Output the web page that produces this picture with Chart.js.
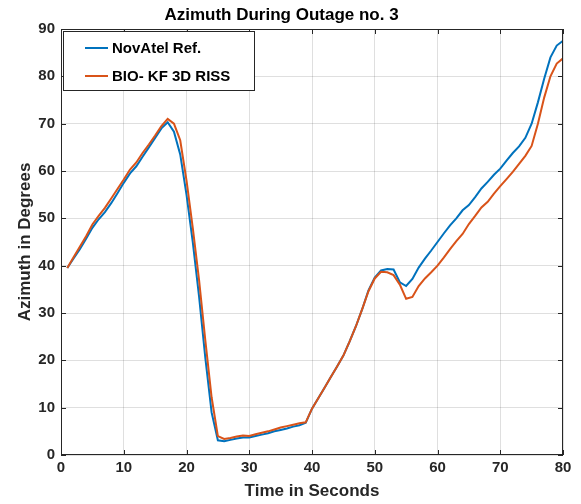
<!DOCTYPE html>
<html>
<head>
<meta charset="utf-8">
<script src="https://cdn.jsdelivr.net/npm/chart.js@4/dist/chart.umd.min.js"></script>
<style>
  html, body { margin: 0; padding: 0; background: #fff; }
  #wrap { width: 581px; height: 504px; }
</style>
</head>
<body>
<div id="wrap"><canvas id="c" width="581" height="504"></canvas></div>
<script>
const chartTitle = "Azimuth During Outage no. 3";
const xTitle = "Time in Seconds";
const yTitle = "Azimuth in Degrees";
const seriesNames = ["NovAtel Ref.", "BIO- KF 3D RISS"];

const timeSec = [1,2,3,4,5,6,7,8,9,10,11,12,13,14,15,16,17,18,19,20,
  21,22,23,24,25,26,27,28,29,30,31,32,33,34,35,36,37,38,39,40,
  41,42,43,44,45,46,47,48,49,50,51,52,53,54,55,56,57,58,59,60,
  61,62,63,64,65,66,67,68,69,70,71,72,73,74,75,76,77,78,79,80];

const novatelRef = [39.5,41.5,43.5,45.7,48.0,49.8,51.3,53.2,55.3,57.5,
  59.5,61.0,63.0,65.0,67.0,69.0,70.3,68.3,63.5,55.0,
  45.0,33.5,20.5,9.0,3.1,2.9,3.2,3.5,3.7,3.7,
  4.0,4.3,4.6,5.0,5.3,5.6,6.0,6.3,6.8,9.8,
  12.0,14.2,16.5,18.7,21.0,24.0,27.2,30.8,34.8,37.5,
  39.0,39.3,39.2,36.5,35.7,37.2,39.6,41.5,43.2,45.0,
  46.8,48.5,50.0,51.7,52.8,54.5,56.3,57.7,59.2,60.5,
  62.2,63.8,65.2,67.0,70.0,74.5,79.5,84.0,86.5,87.5];

const bioKf3dRiss = [39.5,41.8,44.0,46.2,48.7,50.5,52.2,54.2,56.2,58.2,
  60.3,61.8,63.8,65.6,67.5,69.5,71.0,70.0,66.5,58.0,
  48.0,37.0,24.2,12.2,4.0,3.4,3.6,3.9,4.1,4.0,
  4.4,4.7,5.0,5.4,5.8,6.1,6.4,6.7,6.9,9.8,
  12.0,14.2,16.5,18.7,21.0,24.0,27.2,30.8,34.6,37.3,
  38.7,38.6,38.0,36.0,33.0,33.4,35.7,37.3,38.6,40.0,
  41.7,43.5,45.2,46.7,48.8,50.5,52.3,53.5,55.2,56.8,
  58.3,59.8,61.5,63.2,65.3,70.0,75.5,80.0,82.7,83.8];

const xTicks = [0,10,20,30,40,50,60,70,80];
const yTicks = [0,10,20,30,40,50,60,70,80,90];

const BLUE = "#0072BD";
const ORANGE = "#D95319";
const AXC = "#262626";
const FONT = "'Liberation Sans', Arial, Helvetica, sans-serif";

function pts(xs, ys) { return xs.map((x, i) => ({ x: x, y: ys[i] })); }

const boxPlugin = {
  id: 'matlabBox',
  afterDraw(chart) {
    const { ctx, chartArea: a, scales } = chart;
    ctx.save();
    // inward ticks on all four sides
    ctx.strokeStyle = AXC;
    ctx.lineWidth = 1;
    const tl = 5;
    ctx.beginPath();
    xTicks.forEach(v => {
      const px = Math.round(scales.x.getPixelForValue(v)) + 0.5;
      ctx.moveTo(px, a.bottom); ctx.lineTo(px, a.bottom - tl);
      ctx.moveTo(px, a.top); ctx.lineTo(px, a.top + tl);
    });
    yTicks.forEach(v => {
      const py = Math.round(scales.y.getPixelForValue(v)) + 0.5;
      ctx.moveTo(a.left, py); ctx.lineTo(a.left + tl, py);
      ctx.moveTo(a.right, py); ctx.lineTo(a.right - tl, py);
    });
    ctx.stroke();
    // axes box
    ctx.strokeStyle = AXC;
    ctx.lineWidth = 1;
    ctx.strokeRect(Math.round(a.left) + 0.5, Math.round(a.top) + 0.5,
                   Math.round(a.right - a.left) - 1, Math.round(a.bottom - a.top) - 1);
    // legend box
    const lx = 63.5, ly = 31.5, lw = 191, lh = 59;
    ctx.fillStyle = '#ffffff';
    ctx.fillRect(lx, ly, lw, lh);
    ctx.strokeStyle = AXC;
    ctx.strokeRect(lx, ly, lw, lh);
    const rows = [48, 76];
    chart.data.datasets.forEach((ds, i) => {
      ctx.strokeStyle = ds.borderColor;
      ctx.lineWidth = 2;
      ctx.beginPath();
      ctx.moveTo(85, rows[i]); ctx.lineTo(108, rows[i]);
      ctx.stroke();
      ctx.fillStyle = '#000000';
      ctx.font = 'bold 15px ' + FONT;
      ctx.textAlign = 'left';
      ctx.textBaseline = 'middle';
      ctx.fillText(ds.label, 112, rows[i] + 1);
    });
    ctx.restore();
  }
};

new Chart(document.getElementById('c'), {
  type: 'line',
  data: {
    datasets: [
      { label: seriesNames[0], data: pts(timeSec, novatelRef), borderColor: BLUE,
        backgroundColor: BLUE, borderWidth: 2, pointRadius: 0, tension: 0, order: 1 },
      { label: seriesNames[1], data: pts(timeSec, bioKf3dRiss), borderColor: ORANGE,
        backgroundColor: ORANGE, borderWidth: 2, pointRadius: 0, tension: 0, order: 0 }
    ]
  },
  options: {
    responsive: false,
    animation: false,
    devicePixelRatio: 1,
    layout: { padding: { left: 0, right: 18, top: 0, bottom: 0 } },
    plugins: {
      legend: { display: false },
      tooltip: { enabled: false },
      title: {
        display: true, text: chartTitle, color: '#000000',
        font: { family: FONT, size: 17, weight: 'bold', lineHeight: 1.2 },
        padding: { top: 5, bottom: 3.6 }
      }
    },
    scales: {
      x: {
        type: 'linear', min: 0, max: 80,
        afterFit(s) { s.height = 49; },
        afterBuildTicks(s) { s.ticks = xTicks.map(v => ({ value: v })); },
        grid: { color: 'rgba(38,38,38,0.15)', drawTicks: false },
        border: { display: false },
        ticks: { color: AXC, padding: 4, maxRotation: 0,
          font: { family: FONT, size: 15, weight: 'bold' } },
        title: { display: true, text: xTitle, color: AXC,
          font: { family: FONT, size: 17, weight: 'bold', lineHeight: 1.2 },
          padding: { top: 0, bottom: 2 } }
      },
      y: {
        type: 'linear', min: 0, max: 90,
        afterFit(s) { s.width = 61; },
        afterBuildTicks(s) { s.ticks = yTicks.map(v => ({ value: v })); },
        grid: { color: 'rgba(38,38,38,0.15)', drawTicks: false },
        border: { display: false },
        ticks: { color: AXC, padding: 6,
          font: { family: FONT, size: 15, weight: 'bold' } },
        title: { display: true, text: yTitle, color: AXC,
          font: { family: FONT, size: 17, weight: 'bold', lineHeight: 1.2 },
          padding: { top: 15, bottom: 0 } }
      }
    }
  },
  plugins: [boxPlugin]
});
</script>
</body>
</html>
